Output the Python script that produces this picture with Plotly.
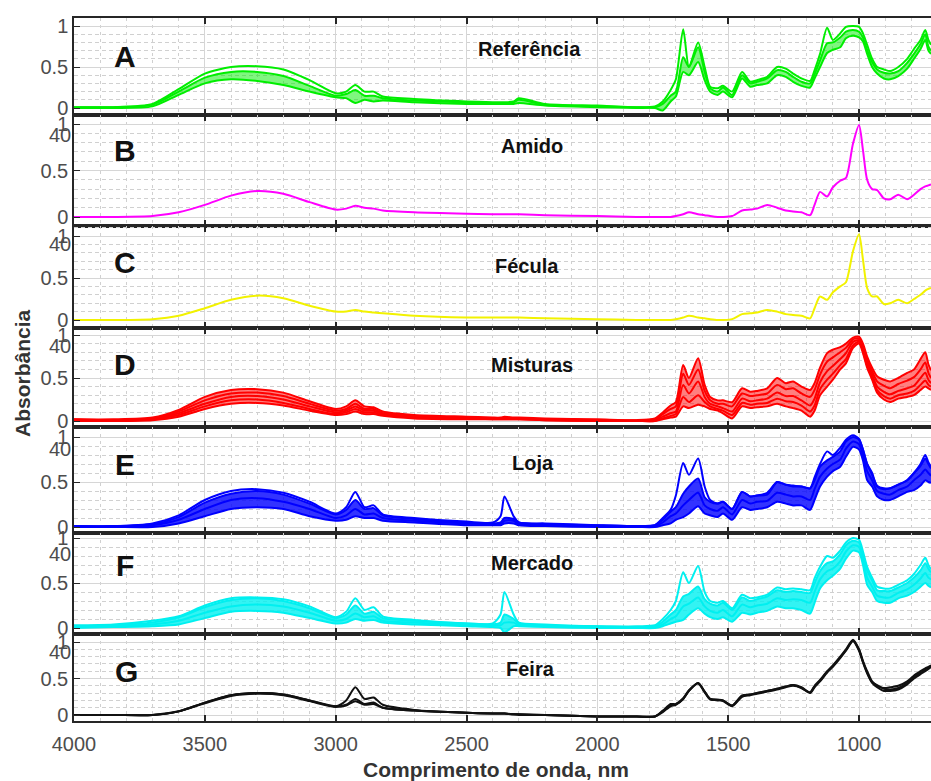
import plotly.graph_objects as go
from plotly.subplots import make_subplots

# ---------------------------------------------------------------- data
wavenumber = [4000, 3850, 3700, 3600, 3500, 3400, 3300, 3200, 3100, 3000,
              2960, 2925, 2890, 2855, 2820, 2700, 2500, 2400, 2370, 2355,
              2320, 2300, 2200, 2000, 1850, 1780, 1750, 1720, 1700, 1672,
              1650, 1615, 1590, 1569, 1540, 1520, 1485, 1447, 1416, 1390,
              1351, 1313, 1280, 1252, 1220, 1187, 1170, 1149, 1122, 1100,
              1072, 1050, 1023, 1000, 985, 969, 950, 931, 905, 881,
              850, 816, 790, 765, 747, 735, 725]

ref_1 = [0.01, 0.01, 0.05, 0.23, 0.42, 0.50, 0.51, 0.47, 0.34, 0.18,
         0.20, 0.28, 0.20, 0.20, 0.14, 0.11, 0.08, 0.07, 0.07, 0.07,
         0.08, 0.12, 0.05, 0.03, 0.01, 0.02, 0.08, 0.22, 0.35, 0.96,
         0.50, 0.80, 0.50, 0.26, 0.24, 0.27, 0.20, 0.44, 0.32, 0.34,
         0.38, 0.50, 0.48, 0.42, 0.36, 0.33, 0.46, 0.66, 0.98, 0.83,
         0.91, 0.99, 1.00, 0.99, 0.91, 0.77, 0.60, 0.50, 0.47, 0.45,
         0.50, 0.60, 0.72, 0.83, 0.95, 0.83, 0.77]
ref_2 = [0.01, 0.01, 0.04, 0.20, 0.37, 0.44, 0.44, 0.39, 0.27, 0.15,
         0.17, 0.22, 0.15, 0.15, 0.12, 0.09, 0.07, 0.06, 0.06, 0.06,
         0.07, 0.10, 0.04, 0.02, 0.01, 0.01, 0.05, 0.15, 0.20, 0.62,
         0.50, 0.74, 0.44, 0.24, 0.20, 0.25, 0.16, 0.40, 0.30, 0.32,
         0.36, 0.46, 0.44, 0.38, 0.32, 0.30, 0.41, 0.58, 0.79, 0.80,
         0.86, 0.93, 0.95, 0.93, 0.86, 0.71, 0.56, 0.47, 0.43, 0.42,
         0.45, 0.55, 0.66, 0.78, 0.90, 0.75, 0.70]
ref_3 = [0.00, 0.00, 0.02, 0.16, 0.30, 0.35, 0.33, 0.28, 0.20, 0.13,
         0.12, 0.06, 0.10, 0.08, 0.09, 0.07, 0.05, 0.05, 0.05, 0.05,
         0.05, 0.06, 0.03, 0.01, 0.00, 0.00, -0.03, 0.08, 0.14, 0.44,
         0.40, 0.56, 0.34, 0.20, 0.16, 0.20, 0.13, 0.36, 0.26, 0.28,
         0.30, 0.40, 0.38, 0.32, 0.27, 0.25, 0.36, 0.50, 0.67, 0.71,
         0.74, 0.85, 0.88, 0.86, 0.81, 0.66, 0.50, 0.42, 0.36, 0.35,
         0.39, 0.48, 0.60, 0.72, 0.83, 0.70, 0.66]

amido = [0.00, 0.00, 0.01, 0.05, 0.13, 0.23, 0.28, 0.25, 0.16, 0.08,
         0.09, 0.12, 0.10, 0.09, 0.07, 0.05, 0.035, 0.03, 0.03, 0.03,
         0.03, 0.03, 0.02, 0.01, 0.00, 0.00, 0.00, 0.00, 0.01, 0.03,
         0.05, 0.03, 0.02, 0.01, 0.00, 0.00, 0.01, 0.07, 0.08, 0.09,
         0.13, 0.10, 0.07, 0.06, 0.05, 0.02, 0.13, 0.27, 0.22, 0.32,
         0.39, 0.42, 0.79, 0.99, 0.72, 0.40, 0.30, 0.29, 0.20, 0.19,
         0.24, 0.19, 0.24, 0.30, 0.33, 0.34, 0.35]

fecula = [0.00, 0.00, 0.01, 0.05, 0.14, 0.24, 0.29, 0.26, 0.17, 0.10,
          0.10, 0.12, 0.10, 0.09, 0.08, 0.05, 0.03, 0.03, 0.03, 0.03,
          0.03, 0.03, 0.02, 0.01, 0.00, 0.00, 0.00, 0.00, 0.01, 0.03,
          0.05, 0.03, 0.02, 0.01, 0.00, 0.00, 0.01, 0.07, 0.08, 0.09,
          0.12, 0.10, 0.07, 0.06, 0.05, 0.02, 0.14, 0.28, 0.24, 0.33,
          0.40, 0.45, 0.82, 1.02, 0.72, 0.38, 0.28, 0.28, 0.19, 0.20,
          0.24, 0.20, 0.25, 0.30, 0.35, 0.37, 0.38]

mist_1 = [0.02, 0.02, 0.04, 0.13, 0.28, 0.36, 0.37, 0.33, 0.23, 0.14,
          0.17, 0.24, 0.17, 0.16, 0.11, 0.07, 0.05, 0.04, 0.04, 0.05,
          0.04, 0.04, 0.03, 0.02, 0.01, 0.03, 0.10, 0.18, 0.22, 0.65,
          0.50, 0.73, 0.42, 0.28, 0.24, 0.24, 0.22, 0.38, 0.34, 0.35,
          0.38, 0.50, 0.44, 0.46, 0.40, 0.36, 0.44, 0.62, 0.79, 0.83,
          0.86, 0.90, 0.97, 0.98, 0.90, 0.75, 0.62, 0.52, 0.48, 0.46,
          0.50, 0.56, 0.60, 0.72, 0.80, 0.66, 0.59]
mist_2 = [0.02, 0.01, 0.03, 0.11, 0.24, 0.32, 0.33, 0.29, 0.20, 0.12,
          0.14, 0.20, 0.14, 0.14, 0.09, 0.06, 0.04, 0.03, 0.03, 0.04,
          0.03, 0.03, 0.02, 0.01, 0.01, 0.02, 0.08, 0.14, 0.17, 0.55,
          0.42, 0.60, 0.35, 0.24, 0.20, 0.20, 0.17, 0.32, 0.29, 0.30,
          0.32, 0.42, 0.37, 0.38, 0.32, 0.28, 0.36, 0.54, 0.69, 0.74,
          0.80, 0.85, 0.95, 0.96, 0.87, 0.72, 0.58, 0.46, 0.41, 0.38,
          0.43, 0.47, 0.51, 0.60, 0.68, 0.56, 0.50]
mist_3 = [0.01, 0.01, 0.02, 0.09, 0.20, 0.28, 0.29, 0.25, 0.17, 0.10,
          0.12, 0.17, 0.12, 0.12, 0.08, 0.05, 0.03, 0.03, 0.03, 0.03,
          0.03, 0.03, 0.02, 0.01, 0.00, 0.01, 0.05, 0.09, 0.11, 0.42,
          0.32, 0.46, 0.28, 0.20, 0.17, 0.15, 0.11, 0.26, 0.23, 0.24,
          0.26, 0.33, 0.29, 0.29, 0.24, 0.18, 0.26, 0.45, 0.58, 0.64,
          0.72, 0.79, 0.92, 0.94, 0.84, 0.68, 0.54, 0.40, 0.34, 0.31,
          0.35, 0.38, 0.41, 0.50, 0.56, 0.48, 0.44]
mist_4 = [0.00, 0.00, 0.02, 0.07, 0.17, 0.24, 0.25, 0.21, 0.14, 0.08,
          0.10, 0.14, 0.10, 0.10, 0.07, 0.04, 0.03, 0.02, 0.02, 0.02,
          0.02, 0.02, 0.01, 0.00, 0.00, 0.00, 0.03, 0.06, 0.08, 0.28,
          0.22, 0.30, 0.22, 0.17, 0.14, 0.12, 0.07, 0.21, 0.19, 0.20,
          0.21, 0.26, 0.23, 0.22, 0.18, 0.11, 0.18, 0.37, 0.48, 0.55,
          0.65, 0.72, 0.88, 0.92, 0.81, 0.64, 0.50, 0.36, 0.29, 0.26,
          0.30, 0.32, 0.35, 0.42, 0.47, 0.42, 0.40]
mist_5 = [0.00, 0.00, 0.01, 0.05, 0.14, 0.20, 0.21, 0.18, 0.12, 0.07,
          0.08, 0.11, 0.08, 0.08, 0.06, 0.03, 0.02, 0.02, 0.02, 0.02,
          0.02, 0.02, 0.01, 0.00, 0.00, 0.00, 0.02, 0.04, 0.05, 0.17,
          0.15, 0.19, 0.17, 0.14, 0.12, 0.09, 0.03, 0.17, 0.15, 0.16,
          0.17, 0.20, 0.17, 0.15, 0.12, 0.05, 0.12, 0.30, 0.40, 0.48,
          0.60, 0.67, 0.85, 0.90, 0.79, 0.62, 0.48, 0.33, 0.25, 0.22,
          0.26, 0.28, 0.30, 0.36, 0.40, 0.38, 0.36]

loja_1 = [0.01, 0.01, 0.04, 0.13, 0.30, 0.40, 0.42, 0.38, 0.28, 0.15,
          0.22, 0.39, 0.22, 0.24, 0.14, 0.10, 0.06, 0.05, 0.12, 0.34,
          0.12, 0.05, 0.04, 0.02, 0.01, 0.02, 0.10, 0.19, 0.35, 0.71,
          0.58, 0.76, 0.45, 0.30, 0.26, 0.28, 0.20, 0.39, 0.34, 0.35,
          0.38, 0.50, 0.47, 0.46, 0.45, 0.43, 0.55, 0.70, 0.84, 0.80,
          0.88, 0.97, 1.02, 0.98, 0.86, 0.70, 0.58, 0.46, 0.43, 0.43,
          0.47, 0.52, 0.60, 0.70, 0.80, 0.72, 0.67]
loja_2 = [0.01, 0.01, 0.03, 0.11, 0.27, 0.37, 0.40, 0.36, 0.26, 0.14,
          0.19, 0.30, 0.20, 0.21, 0.13, 0.09, 0.05, 0.04, 0.05, 0.10,
          0.09, 0.05, 0.03, 0.02, 0.01, 0.02, 0.08, 0.17, 0.22, 0.37,
          0.45, 0.54, 0.33, 0.28, 0.26, 0.28, 0.20, 0.39, 0.34, 0.35,
          0.36, 0.50, 0.47, 0.45, 0.45, 0.43, 0.52, 0.67, 0.74, 0.78,
          0.84, 0.95, 1.00, 0.97, 0.86, 0.70, 0.60, 0.45, 0.42, 0.43,
          0.47, 0.52, 0.60, 0.68, 0.76, 0.70, 0.65]
loja_3 = [0.00, 0.00, 0.02, 0.08, 0.20, 0.30, 0.32, 0.28, 0.20, 0.10,
          0.13, 0.20, 0.14, 0.15, 0.10, 0.07, 0.04, 0.03, 0.03, 0.07,
          0.07, 0.03, 0.02, 0.01, 0.00, 0.01, 0.05, 0.12, 0.15, 0.24,
          0.30, 0.38, 0.24, 0.20, 0.18, 0.22, 0.14, 0.30, 0.26, 0.28,
          0.29, 0.38, 0.36, 0.34, 0.34, 0.30, 0.42, 0.56, 0.65, 0.70,
          0.75, 0.87, 0.95, 0.92, 0.80, 0.62, 0.52, 0.40, 0.37, 0.36,
          0.41, 0.45, 0.52, 0.58, 0.64, 0.60, 0.57]
loja_4 = [0.00, 0.00, 0.00, 0.04, 0.12, 0.20, 0.22, 0.20, 0.12, 0.07,
          0.08, 0.12, 0.10, 0.10, 0.07, 0.05, 0.02, 0.02, 0.02, 0.04,
          0.04, 0.02, 0.01, 0.00, 0.00, 0.00, 0.02, 0.04, 0.08, 0.11,
          0.15, 0.23, 0.15, 0.13, 0.11, 0.15, 0.08, 0.22, 0.19, 0.20,
          0.22, 0.28, 0.26, 0.24, 0.24, 0.19, 0.30, 0.45, 0.56, 0.62,
          0.67, 0.78, 0.89, 0.86, 0.74, 0.52, 0.45, 0.34, 0.30, 0.30,
          0.34, 0.39, 0.41, 0.46, 0.52, 0.50, 0.49]

merc_1 = [0.03, 0.04, 0.08, 0.13, 0.25, 0.33, 0.34, 0.32, 0.24, 0.12,
          0.18, 0.33, 0.20, 0.23, 0.13, 0.09, 0.05, 0.05, 0.15, 0.40,
          0.15, 0.06, 0.04, 0.02, 0.02, 0.03, 0.10, 0.20, 0.30, 0.62,
          0.50, 0.69, 0.40, 0.30, 0.28, 0.30, 0.22, 0.37, 0.33, 0.34,
          0.37, 0.45, 0.43, 0.44, 0.43, 0.42, 0.55, 0.68, 0.80, 0.78,
          0.86, 0.95, 1.00, 0.98, 0.85, 0.68, 0.56, 0.46, 0.44, 0.44,
          0.48, 0.53, 0.60, 0.70, 0.78, 0.70, 0.65]
merc_2 = [0.02, 0.03, 0.06, 0.12, 0.23, 0.31, 0.33, 0.30, 0.22, 0.11,
          0.15, 0.25, 0.16, 0.18, 0.11, 0.08, 0.05, 0.04, 0.06, 0.15,
          0.10, 0.05, 0.03, 0.02, 0.01, 0.02, 0.07, 0.15, 0.20, 0.35,
          0.38, 0.46, 0.32, 0.27, 0.25, 0.28, 0.20, 0.34, 0.30, 0.32,
          0.35, 0.42, 0.40, 0.41, 0.40, 0.39, 0.50, 0.63, 0.72, 0.74,
          0.82, 0.92, 0.97, 0.95, 0.82, 0.64, 0.53, 0.42, 0.41, 0.41,
          0.45, 0.50, 0.56, 0.64, 0.72, 0.66, 0.62]
merc_3 = [0.01, 0.02, 0.04, 0.08, 0.17, 0.24, 0.26, 0.24, 0.17, 0.08,
          0.10, 0.16, 0.12, 0.13, 0.08, 0.06, 0.03, 0.03, 0.03, 0.06,
          0.06, 0.03, 0.02, 0.01, 0.00, 0.01, 0.04, 0.10, 0.13, 0.24,
          0.27, 0.34, 0.24, 0.19, 0.17, 0.20, 0.13, 0.26, 0.23, 0.25,
          0.27, 0.33, 0.31, 0.32, 0.31, 0.28, 0.40, 0.54, 0.63, 0.66,
          0.74, 0.85, 0.92, 0.90, 0.76, 0.56, 0.46, 0.36, 0.34, 0.34,
          0.39, 0.43, 0.48, 0.55, 0.61, 0.56, 0.54]
merc_4 = [0.00, 0.01, 0.02, 0.04, 0.11, 0.18, 0.19, 0.17, 0.11, 0.05,
          0.06, 0.10, 0.08, 0.09, 0.06, 0.04, 0.02, 0.01, 0.00, -0.05,
          0.02, 0.02, 0.01, 0.00, 0.00, 0.00, 0.02, 0.05, 0.07, 0.09,
          0.15, 0.22, 0.16, 0.12, 0.10, 0.12, 0.07, 0.17, 0.15, 0.17,
          0.19, 0.24, 0.22, 0.22, 0.20, 0.16, 0.28, 0.44, 0.53, 0.58,
          0.66, 0.77, 0.86, 0.84, 0.70, 0.48, 0.40, 0.30, 0.28, 0.28,
          0.33, 0.36, 0.40, 0.46, 0.50, 0.47, 0.45]

feira_1 = [0.00, 0.00, 0.00, 0.05, 0.17, 0.27, 0.30, 0.28, 0.20, 0.12,
           0.20, 0.38, 0.22, 0.24, 0.14, 0.07, 0.03, 0.02, 0.02, 0.02,
           0.01, 0.01, 0.00, -0.02, -0.02, -0.02, 0.06, 0.15, 0.15, 0.22,
           0.33, 0.44, 0.32, 0.22, 0.21, 0.20, 0.13, 0.27, 0.28, 0.30,
           0.33, 0.36, 0.39, 0.41, 0.37, 0.31, 0.40, 0.48, 0.60, 0.68,
           0.80, 0.90, 1.03, 0.90, 0.74, 0.60, 0.46, 0.40, 0.37, 0.38,
           0.40, 0.46, 0.54, 0.60, 0.64, 0.66, 0.68]
feira_2 = [0.00, 0.00, 0.00, 0.05, 0.17, 0.27, 0.30, 0.28, 0.20, 0.12,
           0.13, 0.19, 0.14, 0.15, 0.10, 0.06, 0.03, 0.02, 0.02, 0.02,
           0.01, 0.01, 0.00, -0.02, -0.02, -0.02, 0.04, 0.12, 0.14, 0.22,
           0.33, 0.43, 0.31, 0.21, 0.21, 0.19, 0.12, 0.25, 0.27, 0.29,
           0.32, 0.35, 0.38, 0.40, 0.37, 0.30, 0.38, 0.46, 0.58, 0.66,
           0.78, 0.88, 1.01, 0.88, 0.72, 0.57, 0.44, 0.38, 0.33, 0.33,
           0.35, 0.42, 0.50, 0.56, 0.60, 0.63, 0.66]
feira_3 = [0.00, 0.00, 0.00, 0.05, 0.16, 0.26, 0.29, 0.27, 0.19, 0.11,
           0.14, 0.22, 0.15, 0.17, 0.10, 0.06, 0.03, 0.02, 0.02, 0.02,
           0.01, 0.00, 0.00, -0.02, -0.02, -0.02, 0.05, 0.13, 0.15, 0.23,
           0.34, 0.44, 0.32, 0.22, 0.20, 0.20, 0.13, 0.26, 0.28, 0.30,
           0.33, 0.36, 0.39, 0.41, 0.38, 0.31, 0.39, 0.47, 0.59, 0.67,
           0.79, 0.89, 1.02, 0.89, 0.73, 0.58, 0.45, 0.41, 0.36, 0.35,
           0.37, 0.44, 0.52, 0.58, 0.62, 0.65, 0.67]

panel_letters = ["A", "B", "C", "D", "E", "F", "G"]
panel_names = ["Referência", "Amido", "Fécula", "Misturas", "Loja", "Mercado", "Feira"]
x_ticks = [4000, 3500, 3000, 2500, 2000, 1500, 1000]

# ---------------------------------------------------------------- panels
panels = [
    dict(color="#00ee00", rgb=(0, 238, 0), lines=[ref_1, ref_2, ref_3], band=(ref_2, ref_3), alpha=0.5),
    dict(color="#ff00ff", rgb=(255, 0, 255), lines=[amido], band=None, alpha=0),
    dict(color="#f2f200", rgb=(242, 242, 0), lines=[fecula], band=None, alpha=0),
    dict(color="#ff0000", rgb=(255, 0, 0), lines=[mist_1, mist_2, mist_3, mist_4, mist_5], band=(mist_1, mist_5), alpha=0.5),
    dict(color="#0000ff", rgb=(0, 0, 255), lines=[loja_1, loja_2, loja_3, loja_4], band=(loja_2, loja_4), alpha=0.8),
    dict(color="#00f0f0", rgb=(0, 240, 240), lines=[merc_1, merc_2, merc_3, merc_4], band=(merc_2, merc_4), alpha=0.8),
    dict(color="#111111", rgb=(17, 17, 17), lines=[feira_1, feira_2, feira_3], band=None, alpha=0),
]

# ---------------------------------------------------------------- geometry (pixels)
W, H = 931, 781
ML, MR, MT, MB = 74, 0, 18, 60
PW, PH = W - ML - MR, H - MT - MB

# top edge, bottom edge, pixel row of 0, pixel row of 1
frames = [(18, 115, 108, 26), (115, 226, 217, 124), (226, 328, 320, 236),
          (328, 427, 421, 335), (427, 533, 527, 437), (533, 634, 628, 538),
          (634, 721, 715, 642)]
letter_pos = [(125, 57), (125, 150), (125, 262), (125, 364), (125, 464), (125, 565), (126, 671)]
name_pos = [(529, 49), (532, 146), (527, 266), (532, 365), (533, 463), (532, 563), (530, 669)]
forty_y = [None, 135, 244, 346, 449, 554, 652]


def fy(py):
    return (H - MB - py) / PH


def fx(px):
    return (px - ML) / PW


FONT = "Liberation Sans, Arial, sans-serif"
AXIS = "#262626"
TICKTXT = "#4d4d4d"

fig = make_subplots(rows=7, cols=1, shared_xaxes=True, vertical_spacing=0)

for i, p in enumerate(panels):
    row = i + 1
    spline = dict(shape="spline", smoothing=0.7)
    if p["band"] is not None:
        hi, lo = p["band"]
        r, g, b = p["rgb"]
        fig.add_trace(go.Scatter(x=wavenumber, y=lo, mode="lines",
                                 line=dict(width=0, **spline),
                                 hoverinfo="skip", showlegend=False), row=row, col=1)
        fig.add_trace(go.Scatter(x=wavenumber, y=hi, mode="lines",
                                 line=dict(width=0, **spline), fill="tonexty",
                                 fillcolor=f"rgba({r},{g},{b},{p['alpha']})",
                                 hoverinfo="skip", showlegend=False), row=row, col=1)
    for s in p["lines"]:
        fig.add_trace(go.Scatter(x=wavenumber, y=s, mode="lines",
                                 line=dict(color=p["color"], width=2, **spline),
                                 hoverinfo="skip", showlegend=False), row=row, col=1)

    top, bot, p0, p1 = frames[i]
    scale = p0 - p1
    yr = [-(bot - p0) / scale, 1 + (p1 - top) / scale]
    fig.update_yaxes(domain=[fy(bot), fy(top)], range=yr,
                     tick0=0, dtick=0.5, ticks="inside", ticklen=6, tickwidth=1.2,
                     tickcolor=AXIS, showline=True, linecolor=AXIS, linewidth=1.5,
                     mirror=False, zeroline=False,
                     showgrid=True, gridcolor="#d6d6d6", gridwidth=1,
                     minor=dict(dtick=0.1, tick0=0, showgrid=True,
                                gridcolor="#d0d0d0", griddash="4px,3px", gridwidth=1),
                     tickfont=dict(family=FONT, size=20, color=TICKTXT),
                     row=row, col=1)
    fig.update_xaxes(range=[4000, 725], tickvals=x_ticks,
                     ticks="inside", ticklen=6, tickwidth=1.5, tickcolor=AXIS,
                     showline=True, linecolor=AXIS, linewidth=1.5, mirror="ticks",
                     zeroline=False, showgrid=True, gridcolor="#d6d6d6", gridwidth=1,
                     minor=dict(dtick=100, tick0=0, showgrid=True,
                                gridcolor="#d0d0d0", griddash="3px,4px", gridwidth=1),
                     tickfont=dict(family=FONT, size=20, color=TICKTXT),
                     ticklabelstandoff=4,
                     showticklabels=(row == 7),
                     row=row, col=1)

annotations = []
for i in range(7):
    lx, ly = letter_pos[i]
    annotations.append(dict(text=f"<b>{panel_letters[i]}</b>", x=fx(lx), y=fy(ly),
                            xref="paper", yref="paper", showarrow=False,
                            xanchor="center", yanchor="middle",
                            font=dict(family=FONT, size=30, color="#111111")))
    nx, ny = name_pos[i]
    annotations.append(dict(text=f"<b>{panel_names[i]}</b>", x=fx(nx), y=fy(ny),
                            xref="paper", yref="paper", showarrow=False,
                            xanchor="center", yanchor="middle",
                            font=dict(family=FONT, size=20, color="#111111")))
    if forty_y[i] is not None:
        annotations.append(dict(text="40", x=fx(73), y=fy(forty_y[i]),
                                xref="paper", yref="paper", showarrow=False,
                                xanchor="right", yanchor="middle",
                                font=dict(family=FONT, size=20, color=TICKTXT)))

annotations.append(dict(text="<b>Comprimento de onda, nm</b>", x=fx(496), y=fy(769),
                        xref="paper", yref="paper", showarrow=False,
                        xanchor="center", yanchor="middle",
                        font=dict(family=FONT, size=21, color="#333333")))
annotations.append(dict(text="<b>Absorbância</b>", x=fx(23), y=fy(373),
                        xref="paper", yref="paper", showarrow=False, textangle=-90,
                        xanchor="center", yanchor="middle",
                        font=dict(family=FONT, size=21, color="#333333")))

fig.update_layout(width=W, height=H,
                  margin=dict(l=ML, r=MR, t=MT, b=MB, pad=0),
                  paper_bgcolor="white", plot_bgcolor="white",
                  showlegend=False, annotations=annotations)

fig.write_html("out.html")
